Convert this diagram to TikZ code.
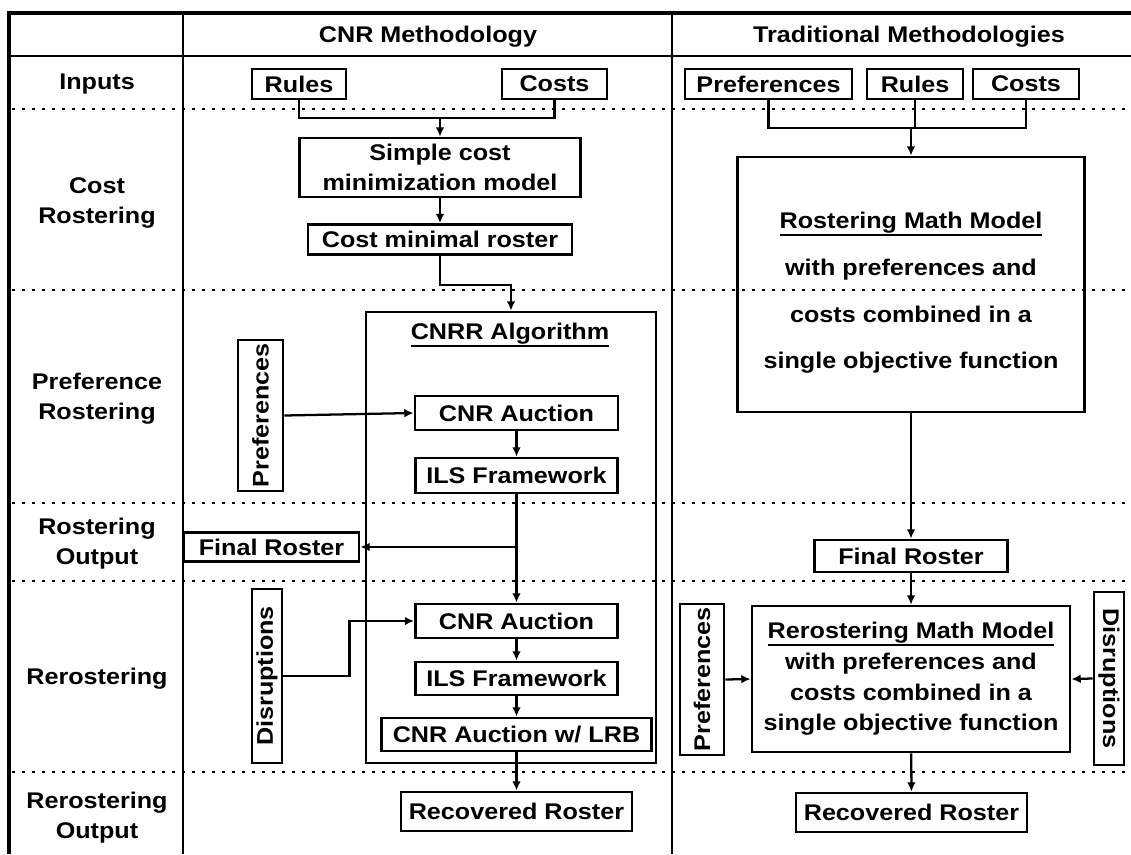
\documentclass[tikz,border=0pt]{standalone}
\usepackage{fontspec}
\setmainfont{Liberation Sans}[FakeStretch=1.11]
\usetikzlibrary{arrows.meta}
\newdimen\unitpx
\unitpx=0.75pt
\newcommand{\ulbox}[1]{\vtop{\hbox{#1}\kern0.3pt\hrule height 1.2pt}}
\tikzset{
  every node/.style={font=\bfseries\fontsize{17}{22.5}\selectfont, align=center},
  dims/.style 2 args={minimum width=#1\unitpx, minimum height=#2\unitpx},
  frame/.style={draw=black, line width=2.3pt},
  grid/.style={draw=black, line width=0.8pt},
  rowsep/.style={draw=black, line width=2pt, dash pattern=on 2pt off 5.5pt},
  box/.style={draw=black, line width=2.1pt, inner sep=2pt},
  vbox/.style={box, rotate=90},
  link/.style={draw=black, line width=1.7pt},
  arrow/.style={link, -{Latex[length=7pt,width=6.5pt]}},
}
\begin{document}
\begin{tikzpicture}[x=\unitpx, y=-\unitpx]
  \useasboundingbox (0,0) rectangle (1131,854);
  % Table: frame, header line, columns, dotted row separators
  \draw[frame] (9,854) -- (9,13) -- (1131,13);
  \draw[grid] (9,56) -- (1131,56);
  \draw[grid] (183,13) -- (183,854);
  \draw[grid] (672,13) -- (672,854);
  \foreach \y in {109,290,503,581,772}
    \draw[rowsep] (12,\y) -- (1131,\y);
  \node (hcnr) at (428,37) {CNR Methodology};
  \node (htrad) at (909,37) {Traditional Methodologies};
  % Row labels
  \node (lin) at (97,84) {Inputs};
  \node (lcost) at (97,203) {Cost\\Rostering};
  \node (lpref) at (97,399) {Preference\\Rostering};
  \node (lout) at (97,544) {Rostering\\Output};
  \node (lrer) at (97,679) {Rerostering};
  \node (lrout) at (97,818) {Rerostering\\Output};
  % CNR methodology
  \node[box, dims={94}{30}] (rulesA) at (299,84) {Rules};
  \node[box, dims={105}{30}] (costsA) at (554.5,84) {Costs};
  \node[box, dims={281}{59}, font=\bfseries\fontsize{17}{23}\selectfont] (simple) at (440,167.5) {Simple cost\\minimization model};
  \node[box, dims={264}{30}] (costmin) at (440,239.5) {Cost minimal roster};
  \node[box, dims={290}{451}] (cnrr) at (511,537.5) {};
  \node (cnrrtitle) at (510,335) {\ulbox{CNRR Algorithm}};
  \node[box, dims={203}{34}] (auction1) at (516.5,413) {CNR Auction};
  \node[box, dims={202}{35}] (ils1) at (516.5,475.5) {ILS Framework};
  \node[box, dims={175}{29}] (finalA) at (271.5,547) {Final Roster};
  \node[box, dims={202}{34}] (auction2) at (516.5,621) {CNR Auction};
  \node[box, dims={202}{33}] (ils2) at (516.5,678.5) {ILS Framework};
  \node[box, dims={270}{33}] (lrb) at (516.5,734.5) {CNR Auction w/ LRB};
  \node[box, dims={231}{39}] (recA) at (516.5,811.5) {Recovered Roster};
  \node[vbox, dims={151}{45}] (prefA) at (260.5,415.5) {Preferences};
  \node[vbox, dims={174}{30}] (disA) at (267,676) {Disruptions};
  \coordinate (mA) at (440,118);
  \coordinate (splitA) at (516.5,547);
  \draw[link] (rulesA.south) |- (mA) -| (costsA.south);
  \draw[arrow] (mA) -- (simple.north);
  \draw[arrow] (simple) -- (costmin);
  \draw[arrow] (costmin.south) -- ++(0,29) -| (cnrr.north);
  \draw[arrow] (prefA.south) -- (auction1.west);
  \draw[arrow] (auction1) -- (ils1);
  \draw[arrow] (ils1.south) -- (auction2.north);
  \draw[arrow] (splitA) -- (finalA.east);
  \draw[arrow] (disA.south) -- ++(66,0) |- (auction2.west);
  \draw[arrow] (auction2) -- (ils2);
  \draw[arrow] (ils2) -- (lrb);
  \draw[arrow] (lrb) -- (recA);
  % Traditional methodologies
  \node[box, dims={167}{30}] (prefB) at (768.5,84) {Preferences};
  \node[box, dims={96}{30}] (rulesB) at (915,84) {Rules};
  \node[box, dims={106}{30}] (costsB) at (1026,84) {Costs};
  \node[box, dims={347}{255}] (rmm) at (911,284.5) {};
  \node[font=\bfseries\fontsize{17}{35}\selectfont] (rmmtext) at (911,293)
    {\ulbox{Rostering Math Model}\\with preferences and\\costs combined in a\\single objective function};
  \node[box, dims={193}{32}] (finalB) at (911,556) {Final Roster};
  \node[box, dims={318}{146}, font=\bfseries\fontsize{17}{23}\selectfont] (rrm) at (911,679)
    {\ulbox{Rerostering Math Model}\\with preferences and\\costs combined in a\\single objective function};
  \node[vbox, dims={151}{44}] (prefC) at (702,679.5) {Preferences};
  \node[box, rotate=-90, dims={173}{30}] (disB) at (1109,678.5) {Disruptions};
  \node[box, dims={231}{39}] (recB) at (911.5,812.5) {Recovered Roster};
  \coordinate (mB) at (911,128);
  \draw[link] (prefB.south) |- (mB) -| (costsB.south);
  \draw[link] (rulesB.south) -- (rulesB.south |- mB);
  \draw[arrow] (mB) -- (rmm.north);
  \draw[arrow] (rmm) -- (finalB);
  \draw[arrow] (finalB) -- (rrm);
  \draw[arrow] (rrm) -- (recB);
  \draw[arrow] (prefC.south) -- (rrm.west);
  \draw[arrow] (disB.south) -- (rrm.east);
\end{tikzpicture}
\end{document}
